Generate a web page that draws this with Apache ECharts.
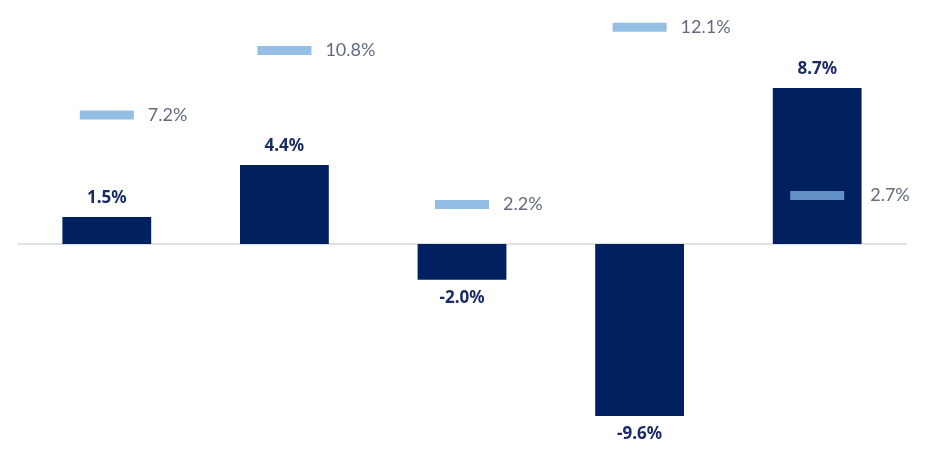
<!DOCTYPE html>
<html>
<head>
    <meta charset="utf-8">
    <title>Bars with target markers</title>
    <script src="https://cdn.jsdelivr.net/npm/echarts@6/dist/echarts.min.js"></script>
    <style>html,body{margin:0;padding:0;background:#fff;}</style>
</head>
<body>
    <div id="main" style="width:929px;height:458px;"></div>
    <script type="text/javascript">
        var categories = ['A', 'B', 'C', 'D', 'E'];
        var barValues = [1.5, 4.4, -2.0, -9.6, 8.7];
        var markerValues = [7.2, 10.8, 2.2, 12.1, 2.7];

        var myChart = echarts.init(document.getElementById('main'));

        var bar = {
            name: 'bar',
            type: 'bar',
            barWidth: '50%',
            itemStyle: { color: '#002060' },
            data: barValues.map(function (v) {
                return {
                    value: v,
                    label: { position: v < 0 ? 'bottom' : 'top' }
                };
            }),
            label: {
                show: true,
                distance: 10,
                fontFamily: 'Noto Sans',
                fontWeight: 'bold',
                fontSize: 17,
                color: '#1a2c66',
                formatter: function (p) { return p.value.toFixed(1) + '%'; }
            },
            z: 2
        };

        // marker label sits past the bar when the marker is inside it
        var marker = {
            name: 'marker',
            type: 'scatter',
            symbol: 'rect',
            symbolSize: [54, 9],
            itemStyle: { color: '#7aaedf' },
            data: markerValues.map(function (v, i) {
                var inside = barValues[i] > 0 && v < barValues[i];
                return { value: [categories[i], v], label: { distance: inside ? 26 : 14 } };
            }),
            label: {
                show: true,
                position: 'right',
                fontFamily: 'Lato',
                fontSize: 18,
                color: '#3a465c',
                formatter: function (p) { return p.value[1].toFixed(1) + '%'; }
            },
            z: 3
        };

        var option = {
            animation: false,
            grid: { left: 18, right: 23, top: 11, bottom: 17, containLabel: false },
            xAxis: {
                type: 'category',
                data: categories,
                axisLine: { onZero: true, lineStyle: { color: '#d3d7de', width: 1.5 } },
                axisTick: { show: false },
                axisLabel: { show: false }
            },
            yAxis: {
                type: 'value',
                min: -11,
                max: 13,
                show: false,
                splitLine: { show: false }
            },
            series: [bar, marker]
        };
        myChart.setOption(option);
    </script>
</body>
</html>
